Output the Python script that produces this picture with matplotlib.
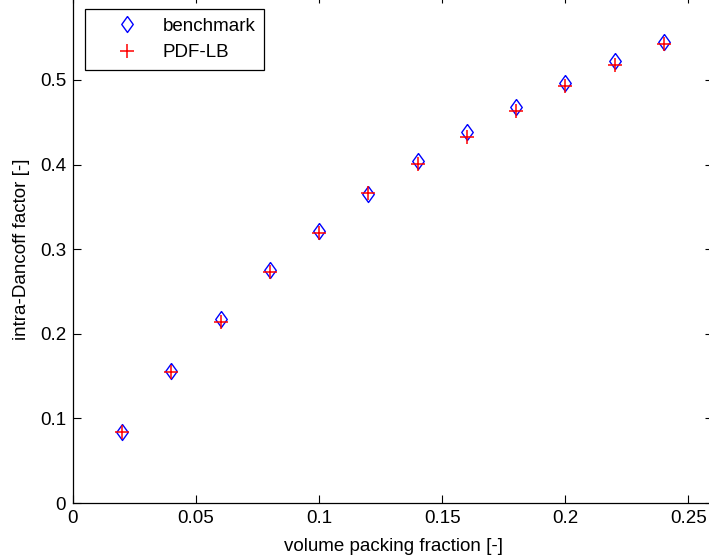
import matplotlib

matplotlib.use("Agg")
import matplotlib.pyplot as plt  # noqa: E402

# packing fraction and intra-Dancoff factors
packing = [0.02, 0.04, 0.06, 0.08, 0.10, 0.12, 0.14, 0.16, 0.18, 0.20, 0.22, 0.24]
benchmark = [0.084, 0.156, 0.218, 0.275, 0.322, 0.365, 0.404, 0.439, 0.468, 0.496, 0.522, 0.545]
pdf_lb = [0.084, 0.155, 0.214, 0.273, 0.319, 0.366, 0.401, 0.433, 0.463, 0.493, 0.518, 0.542]

xticks = [0, 0.05, 0.1, 0.15, 0.2, 0.25]
xticklabels = ["0", "0.05", "0.1", "0.15", "0.2", "0.25"]
yticks = [0, 0.1, 0.2, 0.3, 0.4, 0.5]
yticklabels = ["0", "0.1", "0.2", "0.3", "0.4", "0.5"]

plt.rcParams["font.family"] = ["Liberation Sans", "DejaVu Sans"]
plt.rcParams["font.size"] = 13.5

# matlab-like diamond, a bit wider than matplotlib's thin one
diamond = [(0, 1), (0.72, 0), (0, -1), (-0.72, 0), (0, 1)]

fig = plt.figure(figsize=(7.09, 5.60), dpi=100)
ax = fig.add_axes([73 / 709, 57 / 560, 640 / 709, 507.6 / 560])

ax.plot(packing, benchmark, ls="none", marker=diamond, ms=11.5, mfc="none",
        mec="#0000ff", mew=1.0, label="benchmark")
ax.plot(packing, pdf_lb, ls="none", marker="+", ms=10, mec="#ff0000", mew=1.1,
        label="PDF-LB")

ax.set_xlim(0, 0.26)
ax.set_ylim(0, 0.6)
ax.set_xticks(xticks)
ax.set_xticklabels(xticklabels)
ax.set_yticks(yticks)
ax.set_yticklabels(yticklabels)
ax.tick_params(direction="in", top=True, right=True, length=5.5, width=0.8,
               pad=5, labelsize=13.5, colors="black")
for s in ax.spines.values():
    s.set_linewidth(0.9)
    s.set_color("black")

ax.set_xlabel("volume packing fraction [-]", labelpad=8)
ax.set_ylabel("intra-Dancoff factor [-]", labelpad=7)

leg = ax.legend(loc="upper left", bbox_to_anchor=(12 / 640, 1 - 13.6 / 507.6),
                borderaxespad=0, numpoints=1, fancybox=False, framealpha=1,
                edgecolor="black", handlelength=3.6, handletextpad=0.1,
                borderpad=0.45, labelspacing=0.5)
leg.get_frame().set_linewidth(0.9)

fig.savefig("out.png", dpi=100)
